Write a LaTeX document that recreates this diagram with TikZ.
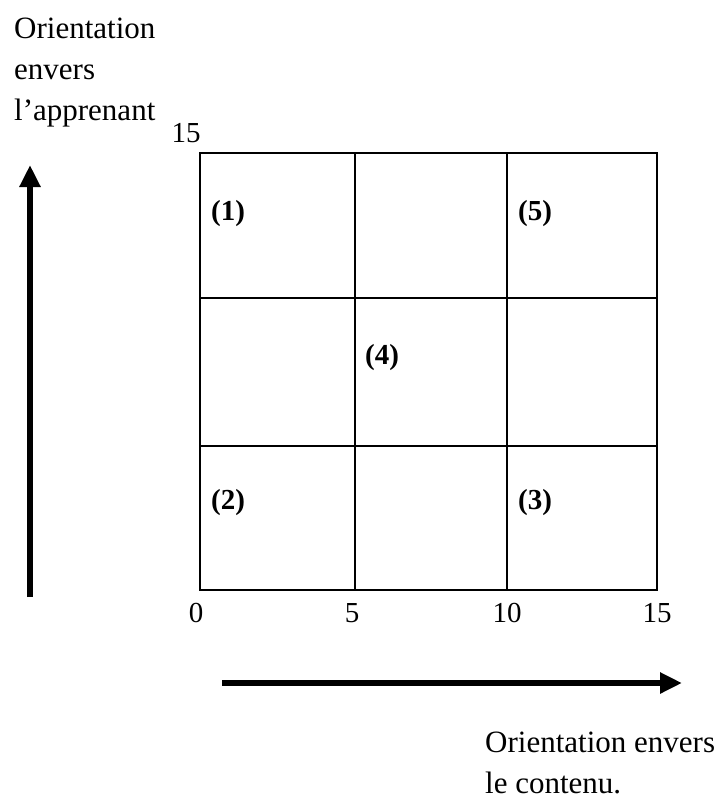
\documentclass[tikz,border=0pt]{standalone}
\usepackage{fontspec}
\setmainfont{Liberation Serif}
\usetikzlibrary{arrows.meta}
\tikzset{
  cellline/.style={line width=2pt},
  axe/.style={line width=6pt,-{Triangle[length=22pt,width=20pt]}},
  num/.style={font=\fontsize{29}{34}\selectfont,inner sep=0pt},
  zone/.style={font=\fontsize{29}{34}\selectfont\bfseries,inner sep=0pt},
  titre/.style={font=\fontsize{31}{41}\selectfont,align=left,inner sep=0pt,anchor=north west}
}
\begin{document}
\begin{tikzpicture}[x=1pt,y=-1pt]
    \useasboundingbox (0,0) rectangle (719,804);
    % Grille 3x3
    \foreach \x in {200,355,507,657}
    \draw[cellline] (\x,153) -- (\x,590);
    \foreach \y in {153,298,446,590}
    \draw[cellline] (199,\y) -- (658,\y);

    % Graduations
    \node[num] (n0) at (196,613) {0};
    \node[num] (n5) at (352,613) {5};
    \node[num] (n10) at (507,613) {10};
    \node[num] (n15) at (657,613) {15};
    \node[num] (m15) at (186,133) {15};

    % Zones
    \node[zone] (z1) at (228,214) {(1)};
    \node[zone] (z5) at (535,214) {(5)};
    \node[zone] (z4) at (382,358) {(4)};
    \node[zone] (z2) at (228,503) {(2)};
    \node[zone] (z3) at (535,503) {(3)};

    % Axes
    \coordinate (va) at (30,597);
    \coordinate (vb) at (30,165);
    \coordinate (ha) at (222,683);
    \coordinate (hb) at (682,683);
    \draw[axe] (va) -- (vb);
    \draw[axe] (ha) -- (hb);

    % Titres des axes
    \node[titre] (tapp) at (14,18) {Orientation\\envers\\l’apprenant};
    \node[titre] (tcont) at (485,732) {Orientation envers\\le contenu.};
\end{tikzpicture}
\end{document}
